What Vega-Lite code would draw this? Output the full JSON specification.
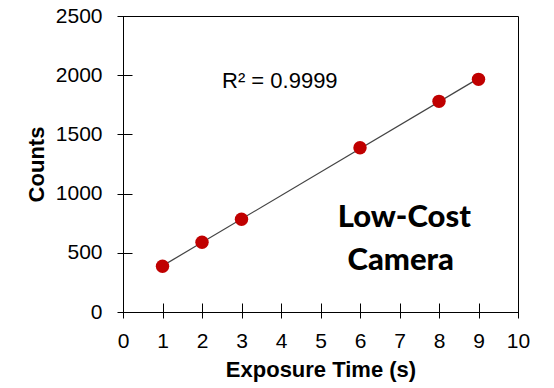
{
  "$schema": "https://vega.github.io/schema/vega-lite/v6.json",
  "autosize": {"type": "none"},
  "padding": {"left": 123, "top": 16, "right": 36, "bottom": 76},
  "width": 395,
  "height": 296,
  "background": "white",
  "config": {
    "view": {"stroke": "#000", "strokeWidth": 1},
    "axis": {
      "domain": false,
      "grid": false,
      "tickColor": "#000",
      "tickSize": 15,
      "tickWidth": 1,
      "offset": -9,
      "labelOverlap": false,
      "labelFont": "Liberation Sans",
      "labelFontSize": 21,
      "labelColor": "#000",
      "titleFont": "Liberation Sans",
      "titleFontSize": 22,
      "titleFontWeight": "bold",
      "titleColor": "#000"
    }
  },
  "datasets": {
    "points": [
      {"time": 1, "counts": 386},
      {"time": 2, "counts": 589},
      {"time": 3, "counts": 784},
      {"time": 6, "counts": 1387},
      {"time": 8, "counts": 1779},
      {"time": 9, "counts": 1965}
    ],
    "notes": [
      {"time": 3.97, "counts": 1892, "label": "R² = 0.9999", "kind": "r2"},
      {"time": 7.12, "counts": 718, "label": "Low-Cost", "kind": "big"},
      {"time": 7.03, "counts": 355, "label": "Camera", "kind": "big"}
    ]
  },
  "encoding": {
    "x": {"field": "time", "type": "quantitative", "scale": {"domain": [0, 10], "nice": false},
      "axis": {"values": [0,1,2,3,4,5,6,7,8,9,10], "tickCount": 20, "format": "d", "title": "Exposure Time (s)", "labelPadding": 12, "titlePadding": 8, "labelFlush": false, "labelOverlap": false}},
    "y": {"field": "counts", "type": "quantitative", "scale": {"domain": [0, 2500], "nice": false},
      "axis": {"values": [0,500,1000,1500,2000,2500], "tickCount": 20, "format": "d", "title": "Counts", "labelPadding": 15, "titlePadding": 7, "labelFlush": false}}
  },
  "layer": [
    {
      "data": {"name": "points"},
      "transform": [{"regression": "counts", "on": "time", "extent": [1, 9]}],
      "mark": {"type": "line", "color": "#444", "strokeWidth": 1.2}
    },
    {
      "data": {"name": "points"},
      "mark": {"type": "circle", "color": "#C00000", "opacity": 1, "size": 180}
    },
    {
      "data": {"name": "notes"},
      "transform": [{"filter": "datum.kind === 'r2'"}],
      "mark": {"type": "text", "font": "Liberation Sans", "fontSize": 22, "align": "center", "baseline": "alphabetic", "color": "#000"},
      "encoding": {"text": {"field": "label"}}
    },
    {
      "data": {"name": "notes"},
      "transform": [{"filter": "datum.kind === 'big'"}],
      "mark": {"type": "text", "font": "Lato", "fontWeight": 900, "fontSize": 31, "align": "center", "baseline": "alphabetic", "color": "#000"},
      "encoding": {"text": {"field": "label"}}
    }
  ]
}
